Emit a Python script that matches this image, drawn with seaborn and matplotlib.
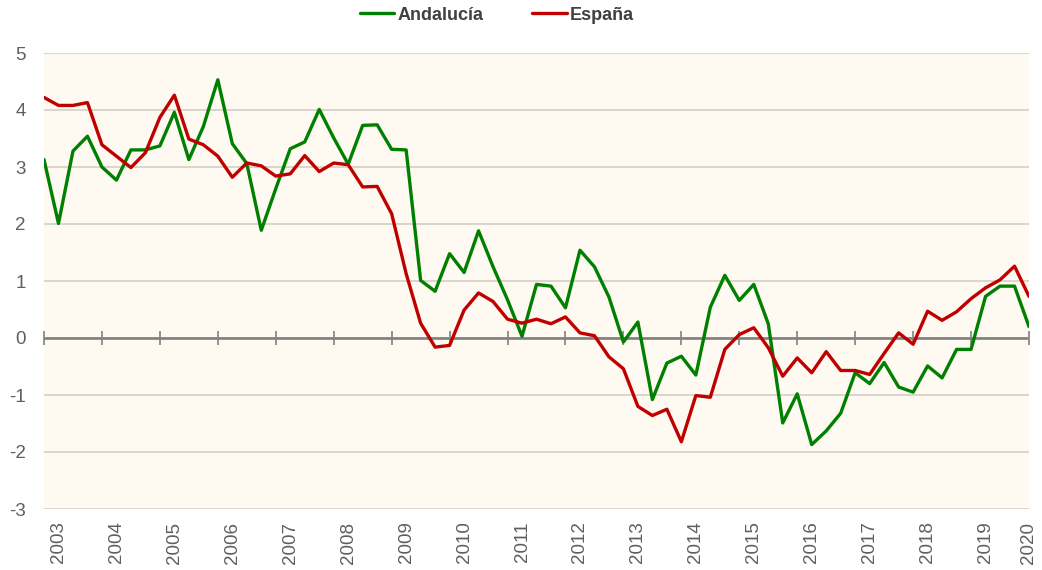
import pandas as pd
import matplotlib.pyplot as plt
import seaborn as sns
from matplotlib.lines import Line2D

# quarterly series, 2003Q1 .. 2020Q1
years = [str(y) for y in range(2003, 2021)]
andalucia = [3.13, 2.01, 3.28, 3.54, 3.00, 2.77, 3.30, 3.30, 3.37, 3.96, 3.13, 3.71,
             4.53, 3.41, 3.06, 1.89, 2.62, 3.32, 3.44, 4.01, 3.51, 3.05, 3.73, 3.74,
             3.31, 3.30, 1.01, 0.82, 1.48, 1.15, 1.88, 1.25, 0.67, 0.03, 0.94, 0.91,
             0.53, 1.54, 1.25, 0.72, -0.07, 0.28, -1.08, -0.44, -0.32, -0.65, 0.54, 1.10,
             0.66, 0.94, 0.25, -1.49, -0.98, -1.87, -1.63, -1.32, -0.61, -0.80, -0.43, -0.86,
             -0.95, -0.49, -0.70, -0.20, -0.20, 0.73, 0.91, 0.91, 0.20]
espana = [4.22, 4.08, 4.08, 4.13, 3.39, 3.19, 2.99, 3.25, 3.87, 4.26, 3.49, 3.39,
          3.19, 2.82, 3.07, 3.02, 2.84, 2.88, 3.20, 2.92, 3.07, 3.04, 2.65, 2.66,
          2.18, 1.13, 0.26, -0.16, -0.13, 0.49, 0.79, 0.64, 0.33, 0.26, 0.33, 0.25,
          0.37, 0.09, 0.04, -0.33, -0.54, -1.20, -1.36, -1.25, -1.82, -1.01, -1.04, -0.20,
          0.06, 0.18, -0.17, -0.67, -0.35, -0.61, -0.24, -0.57, -0.57, -0.64, -0.27, 0.09,
          -0.11, 0.47, 0.31, 0.46, 0.69, 0.88, 1.02, 1.26, 0.73]
series = ['Andalucía', 'España']
colors = {'Andalucía': '#008000', 'España': '#c00000'}

n = len(andalucia)
df = pd.DataFrame({
    't': list(range(n)) * 2,
    'valor': andalucia + espana,
    'serie': [series[0]] * n + [series[1]] * n,
})

sns.set_style('white')
plt.rcParams['font.family'] = ['Liberation Sans', 'DejaVu Sans']
plt.rcParams['axes.unicode_minus'] = False

fig = plt.figure(figsize=(10.42, 5.70), dpi=100)
ax = fig.add_axes([44 / 1042, 1 - 509 / 570, (1029 - 44) / 1042, (509 - 53) / 570])
ax.set_facecolor('#fef9f1')

sns.lineplot(data=df, x='t', y='valor', hue='serie', palette=colors,
             linewidth=2.4, ax=ax, legend=False, zorder=3)

ax.set_xlim(0, n - 1)
ax.set_ylim(-3, 5)
ax.set_yticks(range(-3, 6))
ax.grid(axis='y', color='#d3cfc8', linewidth=1.2)
ax.grid(axis='x', visible=False)
ax.set_axisbelow(True)
for s in ax.spines.values():
    s.set_visible(False)
ax.axhline(0, color='#808080', linewidth=1.9, zorder=2)

# year labels
label_pos = list(range(1, n - 3, 4)) + [n - 1]
ax.set_xticks(label_pos)
ax.set_xticklabels(years, rotation=90)
ax.tick_params(axis='x', length=0, pad=9, labelsize=13.5, labelcolor='#5f5f5f')
ax.tick_params(axis='y', length=0, pad=13, labelsize=13.5, labelcolor='#5f5f5f')
ax.set_xlabel('')
ax.set_ylabel('')

# tick marks on the zero line
sec = ax.secondary_xaxis(3 / 8)
sec.set_xticks(range(0, n, 4))
sec.tick_params(axis='x', direction='inout', length=10, width=1.2, color='#808080',
                labelbottom=False, labeltop=False)
for s in sec.spines.values():
    s.set_visible(False)

handles = [Line2D([], [], color=colors[s], linewidth=2.4) for s in series]
leg = fig.legend(handles, series, loc='center', bbox_to_anchor=(497 / 1042, 1 - 15 / 570),
                 ncol=2, frameon=False, handlelength=1.9, handletextpad=0.2,
                 columnspacing=2.7, prop={'weight': 'bold', 'size': 13})
for t in leg.get_texts():
    t.set_color('#404040')

fig.savefig('out.png', dpi=100)
